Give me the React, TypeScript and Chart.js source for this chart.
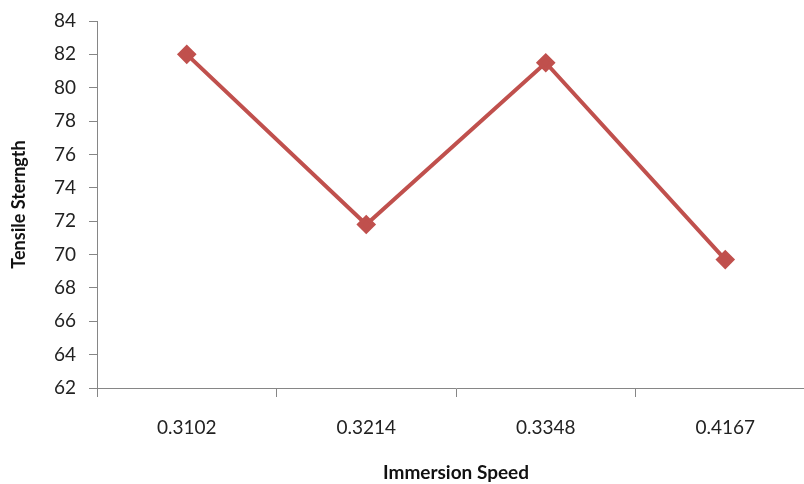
import React, { useEffect, useRef } from "react";
import { Chart, registerables } from "chart.js";

Chart.register(...registerables);

const categories = ["0.3102", "0.3214", "0.3348", "0.4167"];
const tensileStrength = [82.0, 71.8, 81.5, 69.7];
const yMin = 62;
const yMax = 84;
const yStep = 2;

const FONT = "Lato, 'Open Sans', sans-serif";

export default function App() {
  const ref = useRef<HTMLCanvasElement | null>(null);

  useEffect(() => {
    if (!ref.current) return;
    const chart = new Chart(ref.current, {
      type: "line",
      data: {
        labels: categories,
        datasets: [
          {
            label: "Tensile Sterngth",
            data: tensileStrength,
            borderColor: "#C0504D",
            backgroundColor: "#C0504D",
            borderWidth: 4,
            pointStyle: "rectRot",
            pointRadius: 7,
            pointHoverRadius: 7,
            tension: 0,
          },
        ],
      },
      options: {
        responsive: false,
        animation: false,
        layout: { padding: { top: 21, right: 15, left: 0, bottom: 0 } },
        plugins: { legend: { display: false }, tooltip: { enabled: false } },
        scales: {
          x: {
            offset: true,
            grid: {
              offset: true,
              drawOnChartArea: false,
              tickLength: 9,
              color: "#868686",
            },
            border: { color: "#868686", width: 1 },
            ticks: {
              padding: 19,
              color: "#222",
              font: { family: FONT, size: 19 },
              maxRotation: 0,
            },
            title: {
              display: true,
              text: "Immersion Speed",
              color: "#111",
              font: { family: FONT, size: 19, weight: "bold" },
              padding: { top: 12, bottom: 0 },
            },
            afterFit: (s: any) => {
              s.height = 96;
            },
          },
          y: {
            min: yMin,
            max: yMax,
            grid: {
              drawOnChartArea: false,
              tickLength: 8,
              color: "#868686",
            },
            border: { color: "#868686", width: 1 },
            ticks: {
              stepSize: yStep,
              padding: 13,
              color: "#222",
              font: { family: FONT, size: 19 },
            },
            title: {
              display: true,
              text: "Tensile Sterngth",
              color: "#111",
              font: { family: FONT, size: 18, weight: "bold" },
              padding: { top: 8, bottom: 4 },
            },
            afterFit: (s: any) => {
              s.width = 97;
              s.paddingTop = 0;
              s.paddingBottom = 0;
            },
          },
        },
      },
    });
    return () => chart.destroy();
  }, []);

  return (
    <div
      style={{
        position: "fixed",
        left: 0,
        top: 0,
        width: 804,
        height: 484,
        overflow: "hidden",
        background: "#fff",
      }}
    >
      <canvas ref={ref} width={830} height={484} style={{ display: "block" }} />
    </div>
  );
}
